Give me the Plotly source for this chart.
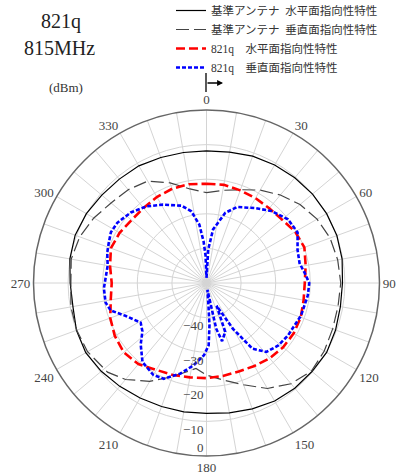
import plotly.graph_objects as go

# ---------------- data (dBm) ----------------
ref_h_theta = list(range(0, 361, 10))
ref_h = [-11.8, -11.6, -11.0, -10.6, -10.3, -10.0, -9.9, -9.9, -10.2, -10.7,
         -10.7, -10.3, -9.9, -10.2, -10.3, -10.6, -11.3, -11.9, -12.3, -12.2,
         -12.0, -11.6, -11.0, -10.3, -9.7, -10.0, -10.8, -10.6, -9.9, -9.6,
         -9.9, -10.5, -10.8, -10.9, -11.4, -11.7, -11.8]

ref_v_theta = [0, 10, 20, 30, 40, 50, 60, 70, 80, 90, 100, 110, 120, 130, 140,
               150, 160, 170, 180, 187, 195, 201, 210, 220, 228, 240, 250, 260,
               270, 280, 290, 300, 310, 320, 330, 340, 350, 360]
ref_v = [-23.9, -22.8, -21.3, -19.0, -16.8, -14.7, -13.1, -12.0, -11.5, -11.2,
         -11.4, -11.2, -10.7, -10.4, -12.0, -14.8, -18.7, -21.5, -23.4, -25.1,
         -23.0, -20.9, -17.2, -13.6, -11.5, -10.3, -10.1, -10.2, -10.8, -10.3,
         -11.0, -12.4, -14.0, -14.8, -16.0, -19.2, -22.4, -23.9]

q_h_theta = list(range(0, 361, 10))
q_h = [-21.3, -21.2, -21.5, -21.7, -21.8, -21.5, -20.4, -19.9, -20.9, -21.6,
       -21.5, -21.0, -20.9, -21.1, -21.6, -22.3, -22.8, -22.7, -22.5, -22.3,
       -21.7, -21.0, -19.4, -18.8, -19.4, -20.4, -21.9, -22.6, -21.7, -20.6,
       -21.0, -21.7, -21.7, -21.3, -21.0, -21.0, -21.3]

q_v_theta = [0, 3, 7, 15, 22, 33, 42, 52, 61, 70, 78, 84, 90, 97, 109, 123,
             131, 139, 145, 150, 156, 159, 165, 168, 172, 175, 176, 178, 182,
             189, 196, 204, 210, 219, 227, 233, 239, 248, 254, 259, 267, 280,
             287, 292, 298, 304, 313, 322, 331, 342, 348, 353, 356, 358, 360]
q_v = [-48.5, -40.2, -34.4, -29.0, -26.3, -24.2, -22.0, -20.1, -19.9, -22.0,
       -22.5, -21.5, -20.3, -20.5, -21.1, -22.0, -22.5, -23.6, -26.8, -34.7,
       -42.8, -34.9, -32.6, -36.5, -48.0, -43.4, -37.7, -32.0, -29.1, -25.9,
       -22.8, -19.7, -19.3, -20.6, -24.0, -26.8, -27.8, -24.7, -21.2, -20.3,
       -20.3, -21.0, -20.0, -19.5, -18.7, -18.9, -20.1, -21.9, -24.1, -26.5,
       -28.8, -33.0, -38.0, -42.0, -48.5]

series_names = ["基準アンテナ\u2002水平面指向性特性", "基準アンテナ\u2002垂直面指向性特性",
                "821q\u3000水平面指向性特性", "821q\u3000垂直面指向性特性"]

radial_ticks = [-40, -30, -20, -10, 0]
radial_labels = ["\u221240", "\u221230", "\u221220", "\u221210", "0"]
angle_ticks = list(range(0, 360, 10))
angle_text = [str(a) if a % 30 == 0 else "" for a in angle_ticks]

SERIF = "Liberation Serif, Noto Sans CJK JP, serif"

W, H = 398, 475


def px(x):
    return x / W


def py(y):
    return 1 - y / H


# labels sit just below their grid circle (the outermost one just inside the rim)
radial_text = [("<br>" + t) if v < 0 else (t + "<br>\u00a0")
               for v, t in zip(radial_ticks, radial_labels)]

fig = go.Figure()
fig.add_trace(go.Scatterpolar(theta=ref_h_theta, r=ref_h, mode="lines", name=series_names[0],
                              line=dict(color="#000000", width=1.2)))
fig.add_trace(go.Scatterpolar(theta=ref_v_theta, r=ref_v, mode="lines", name=series_names[1],
                              line=dict(color="#444444", width=1.2, dash="13px,5px")))
fig.add_trace(go.Scatterpolar(theta=q_h_theta, r=q_h, mode="lines", name=series_names[2],
                              line=dict(color="#ff0000", width=2.6, dash="9px,4px")))
fig.add_trace(go.Scatterpolar(theta=q_v_theta, r=q_v, mode="lines", name=series_names[3],
                              line=dict(color="#0000ff", width=2.6, dash="4px,2px")))

fig.update_layout(
    width=W, height=H,
    margin=dict(l=0, r=0, t=0, b=0, autoexpand=False),
    paper_bgcolor="white",
    font=dict(family=SERIF, color="#333333"),
    showlegend=True,
    legend=dict(x=px(171), y=py(-4), xanchor="left", yanchor="top",
                bgcolor="rgba(0,0,0,0)", font=dict(size=11.5, family=SERIF, color="#333333"),
                tracegroupgap=0, itemwidth=30),
    polar=dict(
        domain=dict(x=[px(33.5), px(379.5)], y=[py(456), py(110)]),
        bgcolor="white",
        angularaxis=dict(rotation=90, direction="clockwise",
                         tickmode="array", tickvals=angle_ticks, ticktext=angle_text,
                         ticks="", showline=True, linecolor="#666666", linewidth=1.5,
                         gridcolor="#d4d4d4", gridwidth=1,
                         tickfont=dict(size=13, family=SERIF, color="#444444")),
        radialaxis=dict(range=[-50, 0], angle=270, side="clockwise",
                        tickmode="array", tickvals=radial_ticks, ticktext=radial_text,
                        ticks="", showline=False, gridcolor="#d4d4d4", gridwidth=1,
                        tickfont=dict(size=13, family=SERIF, color="#444444"),
                        tickangle=-90),
    ),
    annotations=[
        dict(text="821q", x=px(61), y=py(22), xref="paper", yref="paper",
             xanchor="center", yanchor="middle", showarrow=False,
             font=dict(size=20, family=SERIF, color="#222222")),
        dict(text="815MHz", x=px(59), y=py(48), xref="paper", yref="paper",
             xanchor="center", yanchor="middle", showarrow=False,
             font=dict(size=20, family=SERIF, color="#222222")),
        dict(text="(dBm)", x=px(66), y=py(88), xref="paper", yref="paper",
             xanchor="center", yanchor="middle", showarrow=False,
             font=dict(size=13, family=SERIF, color="#333333")),
        dict(text="", x=px(223), y=py(83), xref="paper", yref="paper",
             showarrow=True, ax=-17, ay=0, arrowhead=2, arrowsize=0.9,
             arrowwidth=1.3, arrowcolor="#000000"),
    ],
    shapes=[
        dict(type="line", xref="paper", yref="paper",
             x0=px(206), x1=px(206), y0=py(73), y1=py(92),
             line=dict(color="#000000", width=1.3)),
    ],
)

# remove the browser's default 8px body margin so the figure fills the window
fig.write_html("out.html", config={"displayModeBar": False},
               post_script="document.body.style.margin='0px';")
